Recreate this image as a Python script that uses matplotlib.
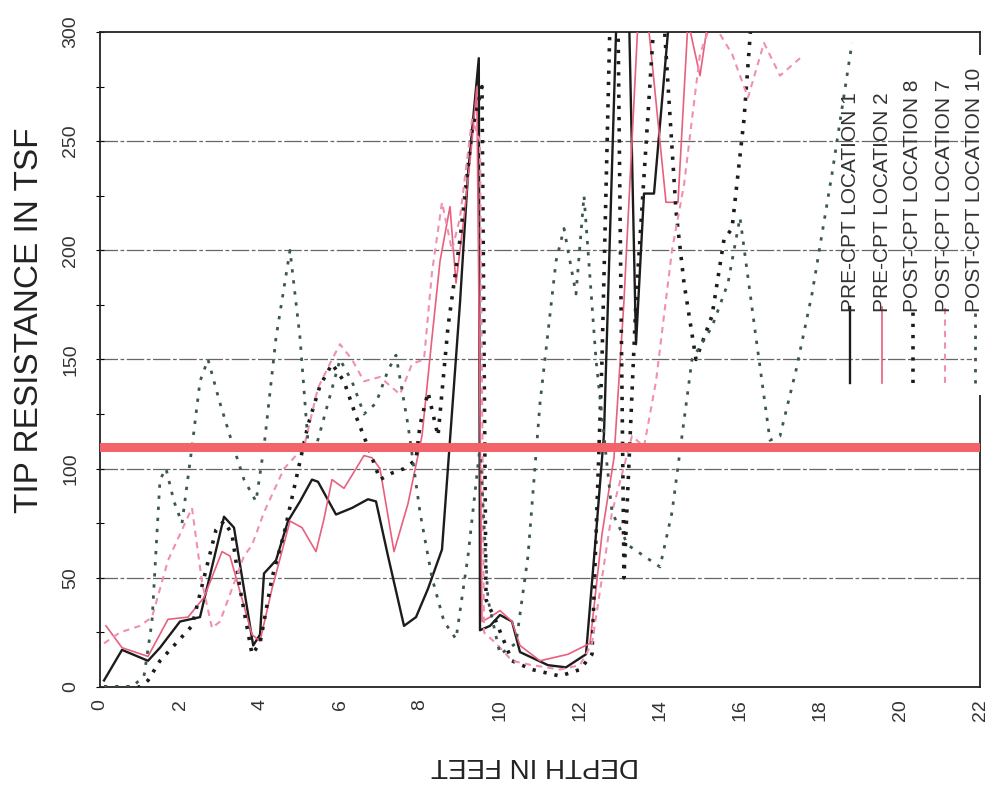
import matplotlib
matplotlib.use("Agg")
import matplotlib.pyplot as plt
from matplotlib.lines import Line2D
from matplotlib.patches import Rectangle

plt.rcParams['font.family'] = ['Liberation Sans', 'DejaVu Sans']

# ---- data (depth in feet, tip resistance in tsf) ----
labels = ["PRE-CPT LOCATION 1", "PRE-CPT LOCATION 2", "POST-CPT LOCATION 8",
          "POST-CPT LOCATION 7", "POST-CPT LOCATION 10"]

d1 = [0.1, 0.55, 1.2, 1.5, 2.0, 2.5, 2.8, 3.1, 3.35, 3.83, 4.0, 4.1, 4.4, 4.7, 5.0, 5.3, 5.45,
      5.9, 6.3, 6.7, 6.9, 7.2, 7.6, 7.9, 8.2, 8.55, 9.0, 9.2, 9.47, 9.5, 9.75, 10.0, 10.3, 10.5,
      11.2, 11.65, 12.15, 12.4, 12.6, 12.7, 12.95, 13.2, 13.4, 13.6, 13.85, 14.2, 14.4]
v1 = [3, 17, 12, 18, 30, 32, 55, 78, 73, 19, 24, 52, 58, 76, 85, 95, 94,
      79, 82, 86, 85, 60, 28, 32, 45, 63, 176, 235, 288, 26, 28, 33, 30, 16,
      10, 9, 15, 70, 116, 177, 330, 330, 157, 226, 226, 300, 330]

d2 = [0.15, 0.55, 1.2, 1.7, 2.2, 2.6, 3.05, 3.25, 3.8, 4.0, 4.3, 4.75, 5.05, 5.4, 5.6, 5.8,
      6.1, 6.6, 6.8, 7.0, 7.35, 7.7, 8.05, 8.3, 8.5, 8.75, 8.9, 9.1, 9.3, 9.42, 9.55, 9.75,
      10.0, 10.3, 10.5, 11.0, 11.7, 12.25, 12.55, 12.85, 13.1, 13.45, 13.7, 14.15, 14.45,
      14.7, 15.0, 15.2, 15.5]
v2 = [28, 18, 14, 31, 32, 41, 62, 60, 24, 21, 45, 76, 73, 62, 77, 95,
      91, 106, 105, 100, 62, 84, 115, 160, 195, 220, 185, 215, 250, 275, 30, 32,
      35, 30, 19, 12, 15, 20, 70, 105, 177, 305, 305, 222, 222,
      305, 280, 305, 320]

d3 = [0.1, 0.5, 1.0, 1.2, 1.5, 1.8, 2.0, 2.3, 2.6, 2.9, 3.1, 3.3, 3.5, 3.8, 4.0, 4.3, 4.6,
      4.9, 5.2, 5.5, 5.8, 6.1, 6.4, 6.7, 7.0, 7.3, 7.6, 7.9, 8.0, 8.2, 8.45, 8.7, 9.0, 9.3,
      9.55, 9.65, 9.9, 10.3, 10.8, 11.5, 12.0, 12.3, 12.55, 12.75, 12.95, 13.1, 13.4, 13.85,
      14.1, 14.4, 14.6, 14.9, 15.3, 15.6, 15.8, 16.1, 16.3]
v3 = [0, 0, 0, 3, 12, 18, 22, 28, 50, 72, 76, 70, 45, 15, 20, 50, 70,
      95, 120, 138, 148, 140, 124, 110, 95, 98, 100, 104, 120, 135, 115, 165, 205, 255,
      275, 40, 30, 12, 8, 5, 8, 15, 150, 305, 305, 50, 177, 305,
      305, 218, 185, 150, 170, 205, 210, 260, 310]

d4 = [0.1, 0.5, 1.0, 1.3, 1.7, 2.0, 2.3, 2.55, 2.8, 3.0, 3.3, 3.6, 3.8, 4.1, 4.6, 5.1, 5.45,
      5.8, 6.0, 6.3, 6.6, 7.0, 7.5, 7.8, 8.1, 8.3, 8.55, 8.8, 9.0, 9.3, 9.5, 9.6, 9.9, 10.3,
      10.8, 11.5, 12.0, 12.3, 12.8, 13.3, 13.6, 13.9, 14.3, 14.6, 15.0, 15.3, 15.8, 16.2,
      16.6, 17.0, 17.5]
v4 = [20, 25, 28, 32, 58, 70, 82, 48, 27, 30, 45, 60, 65, 80, 100, 110, 137,
      150, 157, 150, 140, 142, 134, 148, 150, 190, 222, 200, 215, 260, 250, 25, 20, 12,
      10, 8, 10, 20, 80, 115, 110, 140, 200, 230, 290, 305, 290, 270,
      295, 280, 288]

d5 = [0.1, 0.8, 1.1, 1.3, 1.5, 1.65, 1.85, 2.05, 2.3, 2.5, 2.7, 3.0, 3.3, 3.6, 3.9, 4.1, 4.4,
      4.75, 5.0, 5.2, 5.4, 5.7, 6.0, 6.3, 6.6, 6.9, 7.2, 7.4, 7.7, 8.0, 8.3, 8.6, 8.9, 9.2,
      9.5, 9.7, 10.0, 10.4, 10.7, 11.0, 11.4, 11.6, 11.9, 12.1, 12.4, 12.8, 13.2, 13.6, 14.0,
      14.3, 14.8, 15.3, 15.7, 16.0, 16.4, 16.75, 17.0, 17.4, 17.8, 18.3, 18.8]
v5 = [0, 0, 5, 30, 95, 100, 85, 75, 110, 140, 150, 130, 112, 95, 85, 110, 160,
      200, 160, 112, 110, 130, 150, 140, 125, 130, 145, 152, 120, 80, 50, 30, 22, 60,
      110, 40, 15, 20, 60, 130, 195, 210, 180, 225, 150, 80, 65, 60, 55,
      80, 150, 165, 185, 215, 160, 113, 115, 145, 180, 235, 295]

red_level = 110
x_ticks = [0, 2, 4, 6, 8, 10, 12, 14, 16, 18, 20, 22]
y_ticks = [0, 50, 100, 150, 200, 250, 300]

# ---- styles ----
styles = [
    dict(color='#1c1c1c', lw=1.7, ls='-'),
    dict(color='#e8607c', lw=1.2, ls='-'),
    dict(color='#1c1c1c', lw=2.6, ls=(0, (0.9, 2.2))),
    dict(color='#f090b0', lw=1.5, ls=(0, (3, 2.5))),
    dict(color='#3a5850', lw=2.0, ls=(0, (1.2, 2.8))),
]

W, H = 992, 785
fig = plt.figure(figsize=(W / 100, H / 100), dpi=100)
ax = fig.add_axes([100 / W, 1 - 687 / H, 880 / W, (687 - 32) / H])

series = [(d1, v1), (d2, v2), (d3, v3), (d4, v4), (d5, v5)]
for (d, v), st in zip(series, styles):
    ax.plot(d, v, **st, zorder=3)

ax.axhline(red_level, color='#f2646a', lw=6.5, zorder=4)

ax.set_xlim(0, 22)
ax.set_ylim(0, 300)
ax.set_xticks(x_ticks)
ax.set_yticks(y_ticks)
ax.set_yticks(range(0, 301, 25), minor=True)
ax.set_xticklabels([str(t) for t in x_ticks], rotation=90, fontsize=14, color='#333333')
ax.set_yticklabels([str(t) for t in y_ticks], rotation=90, fontsize=14, color='#333333', va='center')
ax.tick_params(axis='x', length=0, pad=9)
ax.tick_params(axis='y', which='both', direction='inout', length=6, width=0.8, pad=12)

for yv in y_ticks[1:-1]:
    ax.axhline(yv, color='#666666', lw=0.9, ls=(0, (14, 2, 3, 2)), zorder=1)

for sp in ax.spines.values():
    sp.set_color('#222222')
    sp.set_linewidth(1.3)

fig.text(30 / W, 1 - 320 / H, "TIP RESISTANCE IN TSF", rotation=90, fontsize=24,
         color='#222222', ha='center', va='center')
fig.text(535 / W, 1 - 765 / H, "DEPTH IN FEET", rotation=180, fontsize=20,
         color='#222222', ha='center', va='center')

# mask part of the right frame behind the legend, as in the scan
fig.patches.append(Rectangle((972 / W, 1 - 395 / H), 18 / W, 340 / H,
                             transform=fig.transFigure, facecolor='white',
                             edgecolor='none', zorder=5))

# legend drawn vertically (rotated page)
key_x = [850, 882, 913, 945, 975]
for kx, st, lab in zip(key_x, styles, labels):
    fig.lines.append(Line2D([kx / W, kx / W], [1 - 383 / H, 1 - 307 / H],
                            transform=fig.transFigure, zorder=6, **st))
    fig.text(kx / W, 1 - 312 / H, lab, rotation=90, fontsize=15, color='#333333',
             ha='center', va='bottom', zorder=6)

fig.savefig("out.png", dpi=100)
